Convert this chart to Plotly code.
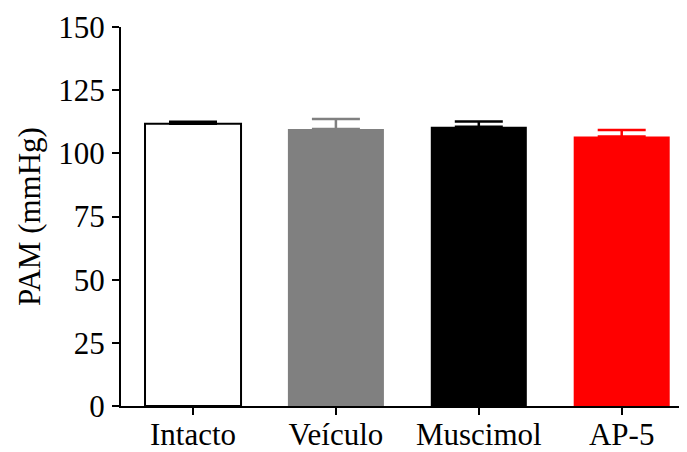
import plotly.graph_objects as go

categories = ["Intacto", "Veículo", "Muscimol", "AP-5"]
means = [111.7, 109.6, 110.5, 106.7]
sems = [0.8, 4.0, 2.1, 2.5]
fill_colors = ["#ffffff", "#808080", "#000000", "#ff0000"]
edge_colors = ["#000000", "#808080", "#000000", "#ff0000"]
y_ticks = [0, 25, 50, 75, 100, 125, 150]

fig = go.Figure()
for i, cat in enumerate(categories):
    fig.add_trace(go.Bar(
        x=[i], y=[means[i]], width=0.672,
        marker=dict(color=fill_colors[i],
                    line=dict(color=edge_colors[i], width=2 if i == 0 else 0)),
        error_y=dict(type="data", symmetric=False, array=[sems[i]], arrayminus=[0],
                     color=edge_colors[i], thickness=2.5, width=24),
        showlegend=False,
    ))

font = dict(family="Liberation Serif, Times New Roman, serif", size=31, color="black")
# page body has an 8px default margin, so the figure is sized to fit the window
fig.update_layout(
    width=679, height=444,
    margin=dict(l=113, r=1, t=19, b=46, autoexpand=False),
    plot_bgcolor="white", paper_bgcolor="white",
    barmode="overlay",
    font=font,
    xaxis=dict(range=[-0.504, 3.45], tickmode="array", tickvals=list(range(len(categories))),
               ticktext=categories, showline=True, linecolor="black", linewidth=2,
               ticks="outside", ticklen=7, tickwidth=2, tickcolor="black",
               showgrid=False, zeroline=False, tickfont=font, automargin=False,
               ticklabelstandoff=-7),
    yaxis=dict(range=[0, 150], tickvals=y_ticks, showline=True, linecolor="black", linewidth=2,
               ticks="outside", ticklen=7, tickwidth=2, tickcolor="black",
               showgrid=False, zeroline=False, tickfont=font, automargin=False,
               ticklabelstandoff=1,
               title=dict(text="PAM (mmHg)", font=font, standoff=8)),
)
fig.write_html("out.html")
